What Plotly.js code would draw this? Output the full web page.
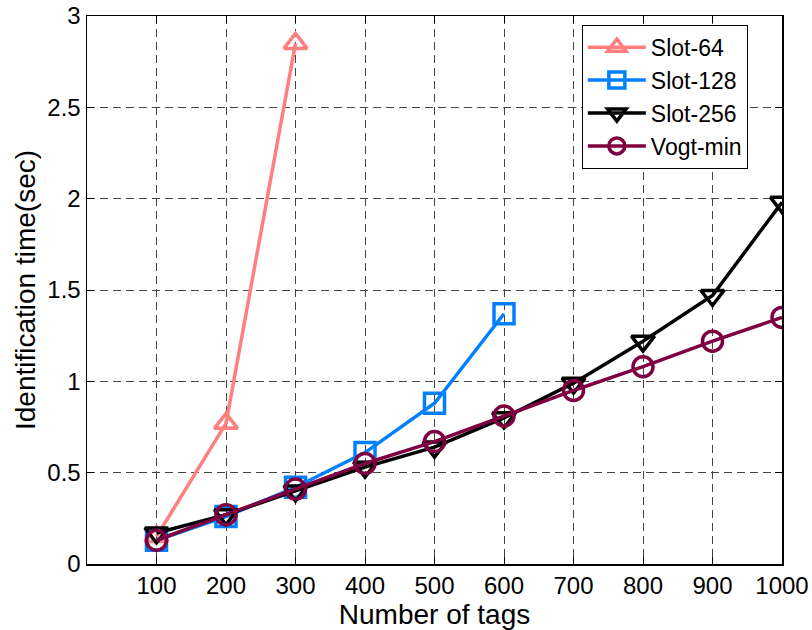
<!DOCTYPE html>
<html>
<head>
<meta charset="utf-8">
<script src="https://cdn.plot.ly/plotly-3.0.1.min.js"></script>
<style>html,body{margin:0;padding:0;background:#fff;}#chart{width:812px;height:630px;}</style>
</head>
<body>
<div id="chart"></div>
<script>
const tagsSlot64 = [100, 200, 300];
const slot64 = [0.15, 0.77, 2.85];
const tagsSlot128 = [100, 200, 300, 400, 500, 600];
const slot128 = [0.13, 0.26, 0.42, 0.61, 0.88, 1.37];
const tagsAll = [100, 200, 300, 400, 500, 600, 700, 800, 900, 1000];
const slot256 = [0.17, 0.27, 0.40, 0.53, 0.64, 0.80, 0.99, 1.22, 1.47, 1.98];
const vogtMin = [0.13, 0.27, 0.41, 0.55, 0.67, 0.81, 0.95, 1.08, 1.22, 1.35];
const xTicks = [100, 200, 300, 400, 500, 600, 700, 800, 900, 1000];
const yTicks = [0, 0.5, 1, 1.5, 2, 2.5, 3];

const FONT = 'Liberation Sans, Arial, sans-serif';
function tr(name, x, y, color, symbol) {
  return {
    type: 'scatter', mode: 'lines+markers', name: name, x: x, y: y,
    line: {color: color, width: 3.5},
    marker: {symbol: symbol, size: 20, color: color, line: {color: color, width: 3.5}}
  };
}
const data = [
  tr('Slot-64', tagsSlot64, slot64, '#ff7f7f', 'triangle-up-open'),
  tr('Slot-128', tagsSlot128, slot128, '#0080ff', 'square-open'),
  tr('Slot-256', tagsAll, slot256, '#000000', 'triangle-down-open'),
  tr('Vogt-min', tagsAll, vogtMin, '#7f0040', 'circle-open')
];
const axisCommon = {
  showline: true, linecolor: '#000', linewidth: 1.5, mirror: 'ticks',
  ticks: 'inside', ticklen: 7, tickcolor: '#000', tickwidth: 1,
  showgrid: true, gridcolor: '#444', griddash: '8px,5px', gridwidth: 1,
  zeroline: false, automargin: false,
  tickfont: {family: FONT, size: 24, color: '#000'}
};
const layout = {
  width: 812, height: 630,
  margin: {l: 87, r: 30, t: 16, b: 66},
  paper_bgcolor: '#fff', plot_bgcolor: '#fff',
  showlegend: true,
  legend: {
    x: 0.712, y: 0.984, xanchor: 'left', yanchor: 'top',
    bordercolor: '#000', borderwidth: 1, bgcolor: '#fff',
    font: {family: FONT, size: 23, color: '#000'},
    tracegroupgap: 0, itemwidth: 58
  },
  xaxis: Object.assign({}, axisCommon, {
    range: [0, 1000], tickvals: xTicks, ticktext: xTicks.map(String),
    title: {text: 'Number of tags', font: {family: FONT, size: 28, color: '#000'}, standoff: 0}
  }),
  yaxis: Object.assign({}, axisCommon, {
    range: [0, 3], tickvals: yTicks, ticktext: yTicks.map(String),
    title: {text: 'Identification time(sec)', font: {family: FONT, size: 28, color: '#000'}, standoff: 3}
  })
};
Plotly.newPlot('chart', data, layout, {displayModeBar: false, staticPlot: true});
</script>
</body>
</html>
